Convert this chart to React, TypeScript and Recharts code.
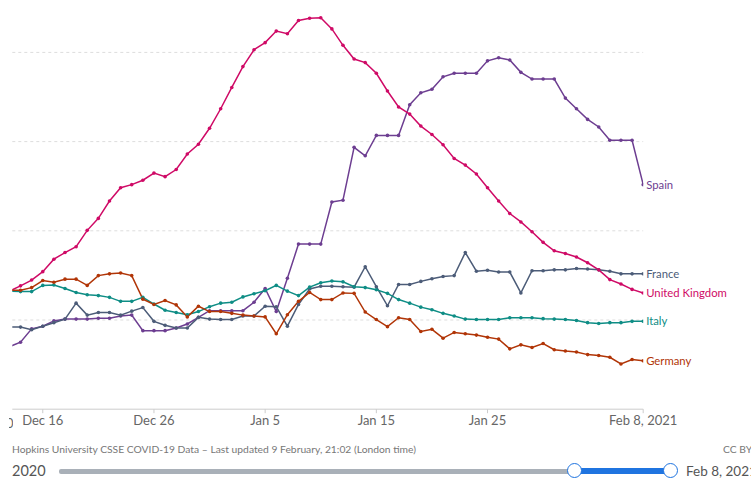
import React from "react";
import { LineChart, Line, XAxis, YAxis, CartesianGrid } from "recharts";

// Day index 0 = Dec 13, 2020 ... 57 = Feb 8, 2021
// Daily new confirmed COVID-19 cases per million (7-day rolling average)
const unitedKingdom = [266, 278, 291, 310, 338, 353, 366, 403, 430, 469, 499, 506, 516, 532, 524, 540, 575, 597, 633, 677, 725, 772, 810, 826, 852, 846, 876, 881, 882, 857, 820, 789, 781, 757, 717, 681, 665, 638, 619, 596, 565, 550, 530, 499, 469, 441, 422, 400, 376, 357, 351, 343, 330, 314, 292, 282, 270, 262];
const spain = [141, 151, 181, 187, 199, 203, 203, 203, 205, 205, 210, 212, 177, 177, 177, 183, 192, 207, 222, 222, 222, 222, 241, 272, 220, 295, 372, 372, 372, 467, 471, 590, 571, 617, 617, 617, 686, 713, 721, 749, 757, 757, 757, 785, 792, 787, 759, 744, 744, 744, 701, 677, 653, 636, 606, 606, 606, 506];
const france = [185, 185, 179, 187, 195, 203, 239, 212, 218, 218, 212, 221, 229, 198, 189, 183, 183, 207, 203, 202, 202, 210, 210, 232, 231, 187, 236, 271, 277, 277, 276, 275, 321, 276, 233, 281, 281, 288, 294, 299, 301, 353, 311, 313, 309, 309, 262, 312, 312, 314, 314, 317, 316, 314, 311, 305, 305, 305];
const germany = [268, 268, 274, 290, 286, 293, 293, 279, 301, 305, 307, 301, 248, 236, 245, 235, 208, 232, 220, 220, 216, 212, 210, 208, 170, 213, 243, 263, 247, 247, 262, 261, 219, 202, 186, 206, 202, 175, 180, 160, 173, 170, 167, 162, 158, 136, 145, 139, 148, 134, 131, 129, 123, 121, 117, 102, 112, 109];
const italy = [266, 265, 265, 279, 280, 272, 263, 258, 256, 252, 243, 243, 252, 237, 223, 218, 213, 220, 231, 239, 241, 253, 260, 267, 279, 266, 256, 275, 285, 289, 287, 276, 274, 269, 261, 247, 239, 230, 224, 216, 210, 203, 202, 202, 202, 206, 206, 206, 204, 203, 202, 200, 195, 193, 195, 195, 198, 198];

const tickDays = [3, 13, 23, 33, 43, 57];
const tickLabels = ["Dec 16", "Dec 26", "Jan 5", "Jan 15", "Jan 25", "Feb 8, 2021"];
const yTicks = [0, 200, 400, 600, 800];

const series = [
  { key: "Spain", values: spain, color: "#6D3E91" },
  { key: "France", values: france, color: "#4C5C78" },
  { key: "United Kingdom", values: unitedKingdom, color: "#CF0A66" },
  { key: "Italy", values: italy, color: "#0E8D85" },
  { key: "Germany", values: germany, color: "#B13507" },
];

const data = unitedKingdom.map((_, i) => {
  const row: Record<string, number> = { d: i };
  series.forEach((s) => {
    row[s.key] = s.values[i];
  });
  return row;
});

const lastIndex = unitedKingdom.length - 1;

const makeLabel = (name: string, color: string) => (props: any) => {
  const { x, y, index } = props;
  if (index !== lastIndex) return null;
  return (
    <text x={x + 3} y={y} dy="0.35em" fill={color} fontSize={11.3} fontFamily="Lato">
      {name}
    </text>
  );
};

export default function App() {
  return (
    <div
      style={{
        position: "absolute",
        left: 0,
        top: 0,
        width: 751,
        height: 479,
        overflow: "hidden",
        background: "#fff",
        fontFamily: "Lato, sans-serif",
      }}
    >
      <div style={{ position: "absolute", left: 0, top: 0 }}>
        <LineChart
          width={751}
          height={479}
          data={data}
          margin={{ top: 9.8, right: 107.8, bottom: 39.8, left: 12.3 }}
        >
          <CartesianGrid
            vertical={false}
            stroke="#dddddd"
            strokeDasharray="3 3"
            horizontalPoints={[52.4, 141.6, 230.8, 320]}
          />
          <XAxis
            dataKey="d"
            type="number"
            domain={[0.26, 57]}
            allowDataOverflow
            ticks={tickDays}
            tickFormatter={(v: number) => tickLabels[tickDays.indexOf(v)] ?? ""}
            height={30}
            axisLine={{ stroke: "#cccccc" }}
            tickLine={{ stroke: "#cccccc" }}
            tickSize={4}
            tickMargin={3}
            tick={{ fill: "#666666", fontSize: 13, fontFamily: "Lato" }}
            interval={0}
          />
          <YAxis hide domain={[0, 900]} ticks={yTicks} allowDataOverflow />
          {series.map((s) => (
            <Line
              key={s.key}
              type="linear"
              dataKey={s.key}
              stroke={s.color}
              strokeWidth={1.5}
              dot={{ r: 1.8, fill: s.color, stroke: s.color, strokeWidth: 0 }}
              activeDot={false}
              isAnimationActive={false}
              label={makeLabel(s.key, s.color)}
            />
          ))}
        </LineChart>
      </div>
      <div
        style={{
          position: "absolute",
          left: 9,
          top: 410,
          width: 4,
          height: 24,
          overflow: "hidden",
        }}
      >
        <div
          style={{
            position: "absolute",
            right: -0.5,
            top: 5,
            fontSize: 13,
            color: "#666",
            whiteSpace: "nowrap",
          }}
        >
          Dec 13, 2020
        </div>
      </div>
      <div
        style={{
          position: "absolute",
          left: 12,
          top: 443,
          fontSize: 10.3,
          color: "#777",
          whiteSpace: "nowrap",
        }}
      >
        Hopkins University CSSE COVID-19 Data – Last updated 9 February, 21:02 (London time)
      </div>
      <div
        style={{
          position: "absolute",
          left: 723,
          top: 443,
          fontSize: 10.3,
          color: "#777",
          whiteSpace: "nowrap",
        }}
      >
        CC BY
      </div>
      <div
        style={{
          position: "absolute",
          left: 12,
          top: 462,
          fontSize: 14.5,
          color: "#555",
          whiteSpace: "nowrap",
        }}
      >
        2020
      </div>
      <div
        style={{
          position: "absolute",
          left: 59,
          top: 469,
          width: 516,
          height: 5,
          background: "#a9b0b8",
          borderRadius: 2,
        }}
      />
      <div
        style={{
          position: "absolute",
          left: 575,
          top: 468,
          width: 97,
          height: 6,
          background: "#1f74e0",
        }}
      />
      <div
        style={{
          position: "absolute",
          left: 567,
          top: 463,
          width: 13,
          height: 13,
          borderRadius: "50%",
          background: "#fff",
          border: "1.5px solid #1f74e0",
        }}
      />
      <div
        style={{
          position: "absolute",
          left: 663,
          top: 463,
          width: 13,
          height: 13,
          borderRadius: "50%",
          background: "#fff",
          border: "1.5px solid #1f74e0",
        }}
      />
      <div
        style={{
          position: "absolute",
          left: 686,
          top: 463,
          fontSize: 13.5,
          color: "#555",
          whiteSpace: "nowrap",
        }}
      >
        Feb 8, 2021
      </div>
    </div>
  );
}
